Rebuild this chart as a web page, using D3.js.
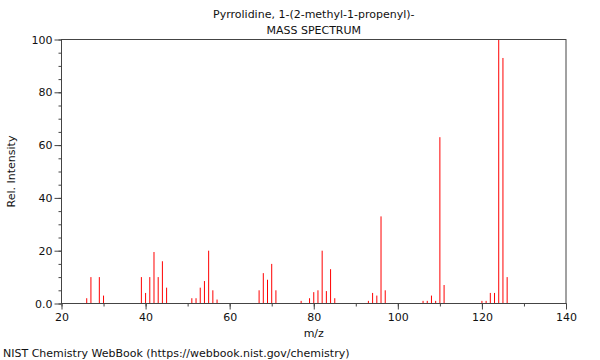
<!DOCTYPE html>
<html><head><meta charset="utf-8">
<script src="https://cdn.jsdelivr.net/npm/d3@7"></script>
<style>body{margin:0;background:#fff}svg{display:block}text{font-family:"DejaVu Sans",sans-serif;fill:#111}</style>
</head><body>
<svg id="c" width="600" height="360"></svg>
<script>
const mz =        [26,27,29,30,39,40,41,42,43,44,45,51,52,53,54,55,56,57,67,68,69,70,71,77,79,80,81,82,83,84,85,93,94,95,96,97,106,107,108,109,110,111,120,121,122,123,124,125,126];
const intensity = [2,10,10,3,10,4,10,19.5,10,16,6,2,2,6,8.5,20,5,1.5,5,11.5,9,15,5,1,2,4.3,5,20,4.7,13,2,1,4,3,33,5,1,1,3,1,63,7,1,1,4,4,100,93,10];
const xTicks = [20,40,60,80,100,120,140];
const yTicks = [0,20,40,60,80,100];
const yTickLabels = ["0.0","20","40","60","80","100"];

const svg = d3.select("#c");
const x = d3.scaleLinear().domain([20,140]).range([61.5,566]);
const y = d3.scaleLinear().domain([0,100]).range([303.5,39.5]);
const axisColor = "#444";

// peaks
svg.append("g").selectAll("line").data(mz).join("line")
  .attr("x1",(d)=>x(d)).attr("x2",(d)=>x(d))
  .attr("y1",y(0)).attr("y2",(d,i)=>y(intensity[i]))
  .attr("stroke","#ff0000").attr("stroke-width",1);

// frame
svg.append("rect").attr("x",x(20)).attr("y",y(100)).attr("width",x(140)-x(20)).attr("height",y(0)-y(100))
  .attr("fill","none").attr("stroke",axisColor).attr("stroke-width",1);

// x axis
const xa = svg.append("g").attr("transform",`translate(0,${y(0)})`);
xa.call(d3.axisBottom(x).tickValues(d3.range(20,141,10)).tickSize(3).tickFormat(""))
  .call(g=>g.select(".domain").remove()).selectAll("line").attr("stroke",axisColor);
const xb = svg.append("g").attr("transform",`translate(0,${y(0)})`);
xb.call(d3.axisBottom(x).tickValues(xTicks).tickSize(6).tickPadding(4).tickFormat(d3.format("d")))
  .call(g=>g.select(".domain").remove());
xb.selectAll("line").attr("stroke",axisColor);
xb.selectAll("text").attr("font-size","11px").attr("font-family","DejaVu Sans").attr("fill","#111");

// y axis
const ya = svg.append("g").attr("transform",`translate(${x(20)},0)`);
ya.call(d3.axisLeft(y).tickValues(d3.range(0,101,5)).tickSize(3).tickFormat(""))
  .call(g=>g.select(".domain").remove()).selectAll("line").attr("stroke",axisColor);
const yb = svg.append("g").attr("transform",`translate(${x(20)},0)`);
yb.call(d3.axisLeft(y).tickValues(yTicks).tickSize(7).tickPadding(2).tickFormat((d,i)=>yTickLabels[i]))
  .call(g=>g.select(".domain").remove());
yb.selectAll("line").attr("stroke",axisColor);
yb.selectAll("text").attr("font-size","11px").attr("font-family","DejaVu Sans").attr("fill","#111");

// titles
const cx = (x(20)+x(140))/2;
svg.append("text").attr("x",cx).attr("y",18).attr("text-anchor","middle").attr("font-size","11px").text("Pyrrolidine, 1-(2-methyl-1-propenyl)-");
svg.append("text").attr("x",cx).attr("y",34).attr("text-anchor","middle").attr("font-size","11px").text("MASS SPECTRUM");
svg.append("text").attr("x",cx).attr("y",337).attr("text-anchor","middle").attr("font-size","11px").text("m/z");
svg.append("text").attr("transform",`translate(15,${(y(0)+y(100))/2}) rotate(-90)`).attr("text-anchor","middle").attr("font-size","11px").text("Rel. Intensity");
svg.append("text").attr("x",3).attr("y",357).attr("font-size","11px").text("NIST Chemistry WebBook (https://webbook.nist.gov/chemistry)");
</script>
</body></html>
